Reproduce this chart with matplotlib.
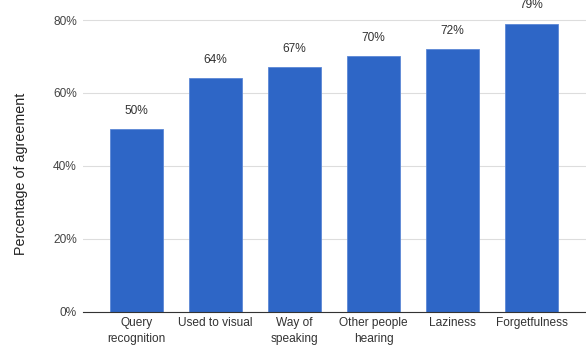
import matplotlib.pyplot as plt

plt.rcParams['font.family'] = ['Liberation Sans', 'DejaVu Sans']

categories = ['Query\nrecognition', 'Used to visual', 'Way of\nspeaking',
              'Other people\nhearing', 'Laziness', 'Forgetfulness']
values = [50, 64, 67, 70, 72, 79]
yticks = [0, 20, 40, 60, 80]

fig = plt.figure(figsize=(5.86, 3.45), dpi=100)
ax = fig.add_axes([83 / 586, 33.5 / 345, 1 - 83 / 586, 311.5 / 345])

x = range(len(values))
ax.bar(x, values, width=0.66, color='#2E66C6', edgecolor='#5C88D6', linewidth=0.6, zorder=3)
for i, v in enumerate(values):
    ax.text(i, v + 5, f'{v}%', ha='center', va='center', fontsize=8.6, color='#333333')

ax.set_xlim(-0.677, 5.69)
ax.set_ylim(0, 85.5)
ax.set_yticks(yticks)
ax.set_yticklabels([f'{t}%' for t in yticks])
ax.set_xticks(list(x))
ax.set_xticklabels(categories, fontsize=8.6, color='#333333', linespacing=1.4)
ax.tick_params(axis='y', length=0, pad=4.5, labelsize=8.6, labelcolor='#444444')
ax.tick_params(axis='x', length=0, pad=4)
ax.grid(axis='y', color='#dddddd', linewidth=0.8, zorder=0)
for s in ['top', 'right', 'left']:
    ax.spines[s].set_visible(False)
ax.spines['bottom'].set_color('#333333')
ax.spines['bottom'].set_linewidth(0.8)
ax.spines['bottom'].set_zorder(4)

fig.text(21 / 586, 1 - 173.5 / 345, 'Percentage of agreement', rotation=90,
         ha='center', va='center', fontsize=10.3, color='#222222')

fig.savefig('out.png', dpi=100)
